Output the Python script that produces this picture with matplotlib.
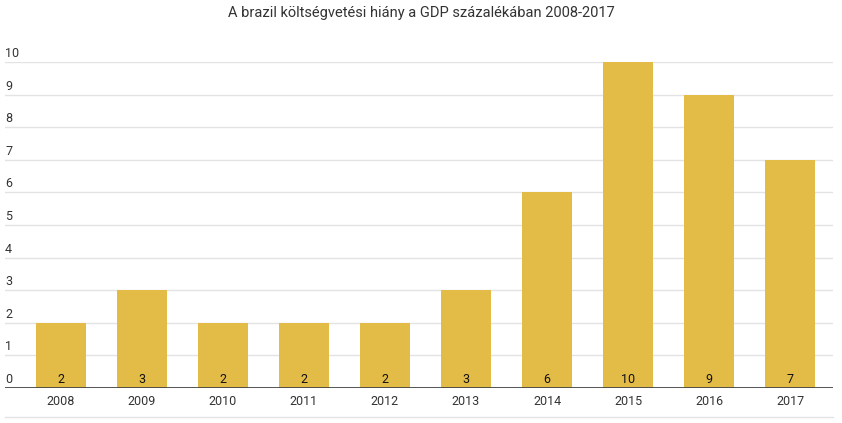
import matplotlib
matplotlib.use('Agg')
import matplotlib.pyplot as plt
from matplotlib.lines import Line2D
from matplotlib.transforms import blended_transform_factory, offset_copy

years = ['2008', '2009', '2010', '2011', '2012', '2013', '2014', '2015', '2016', '2017']
deficit = [2, 3, 2, 2, 2, 3, 6, 10, 9, 7]
yticks = list(range(0, 11))

plt.rcParams['font.family'] = ['Roboto', 'DejaVu Sans']

fig = plt.figure(figsize=(8.42, 4.23), dpi=100)
ax = fig.add_axes([5/842, 1-388/423, 828/842, (388-62)/423])

x = list(range(len(years)))
ax.bar(x, deficit, width=0.62, color='#E3BB47', zorder=2)
ax.set_xlim(-0.69, 9.53)
ax.set_ylim(0, 10)

# grid
for t in yticks[1:]:
    ax.axhline(t, color='#e3e3e3', lw=1, zorder=1)
ax.axhline(0, color='#444444', lw=2, zorder=3)

for s in ax.spines.values():
    s.set_visible(False)
ax.set_yticks([])
ax.set_xticks(x)
ax.set_xticklabels(years, fontsize=9, color='#333333')
ax.tick_params(axis='x', length=0, pad=5)

# y labels sitting above grid lines
tr = offset_copy(blended_transform_factory(ax.transAxes, ax.transData), fig=fig, x=0, y=1.5, units='points')
for t in yticks:
    ax.text(0, t, str(t), transform=tr, ha='left', va='bottom', fontsize=9, color='#333333')

# value labels at bar base
tr2 = offset_copy(ax.transData, fig=fig, x=0, y=1.5, units='points')
for xi, v in zip(x, deficit):
    ax.text(xi, 0, str(v), transform=tr2, ha='center', va='bottom', fontsize=9, color='#111111', zorder=4)

fig.text(0.5, 1-13/423, 'A brazil költségvetési hiány a GDP százalékában 2008-2017',
         ha='center', va='center', fontsize=10.5, color='#333333')

fig.add_artist(Line2D([5/842, 833/842], [1-417/423, 1-417/423], color='#e3e3e3', lw=1))

fig.savefig('out.png', dpi=100)
